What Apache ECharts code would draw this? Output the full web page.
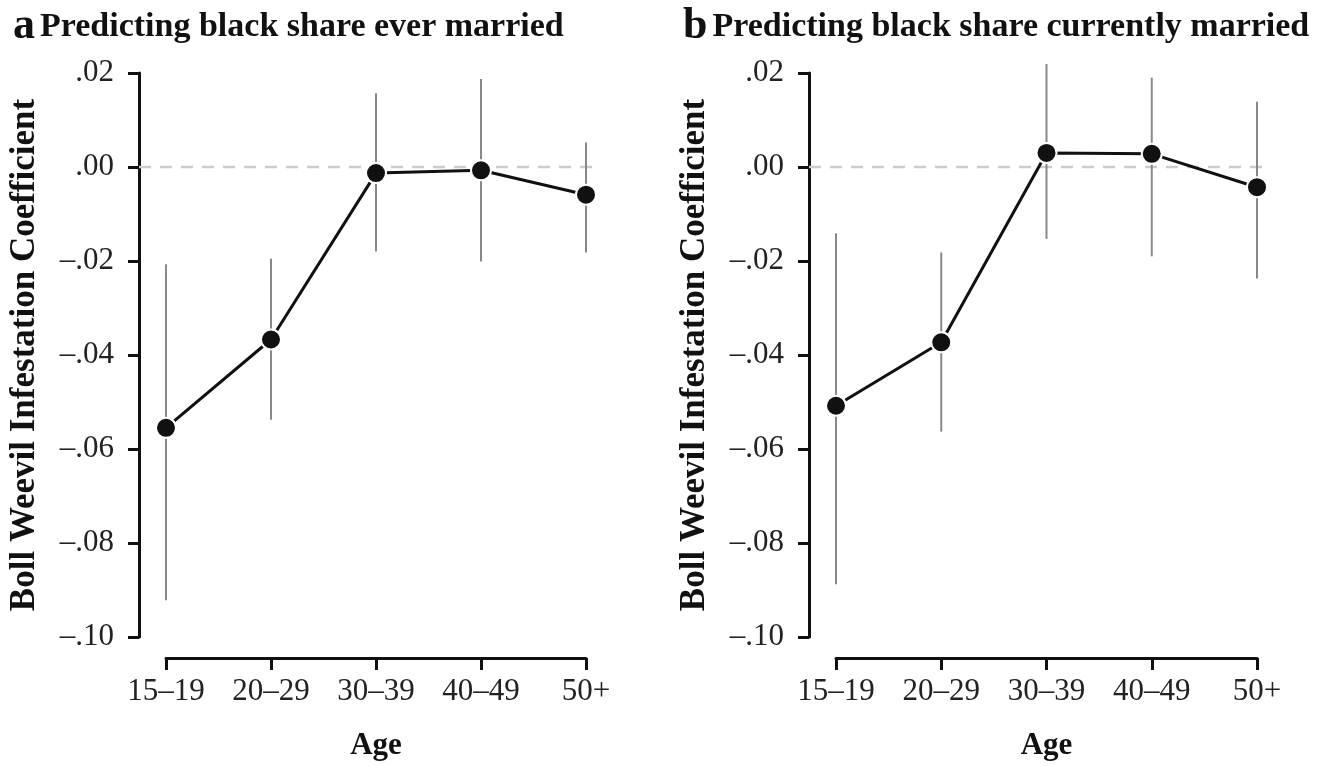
<!DOCTYPE html>
<html><head><meta charset="utf-8">
<script src="https://cdn.jsdelivr.net/npm/echarts@6/dist/echarts.min.js"></script>
<style>html,body{margin:0;padding:0;background:#fff}#c{width:1333px;height:766px}</style>
</head><body><div id="c"></div>
<script>
const ageGroups = ['15–19', '20–29', '30–39', '40–49', '50+'];
const everCoef = [-0.0555, -0.0367, -0.0013, -0.0007, -0.0059];
const everLow  = [-0.0922, -0.0538, -0.0180, -0.0201, -0.0182];
const everHigh = [-0.0207, -0.0195, 0.0157, 0.0187, 0.0052];
const currCoef = [-0.0508, -0.0373, 0.0030, 0.0028, -0.0043];
const currLow  = [-0.0888, -0.0563, -0.0153, -0.0190, -0.0237];
const currHigh = [-0.0141, -0.0182, 0.0219, 0.0190, 0.0139];
const panelLetters = ['a', 'b'];
const panelTitles = ['Predicting black share ever married', 'Predicting black share currently married'];
const yAxisTitle = 'Boll Weevil Infestation Coefficient';
const xAxisTitle = 'Age';

const FONT = '"Liberation Serif", "Times New Roman", serif';
const chart = echarts.init(document.getElementById('c'));

function fmt(v) {
  const s = Math.abs(v).toFixed(2).replace(/^0/, '');
  return (v < -1e-9 ? '–' : '') + s;
}

const grids = [
  { left: 166, top: 73, width: 420, height: 564 },
  { left: 836, top: 73, width: 421, height: 564 }
];

function xAxis(i) {
  return {
    type: 'category', gridIndex: i, data: ageGroups, boundaryGap: false, offset: 21, position: 'bottom',
    axisLine: { onZero: false, lineStyle: { color: '#111', width: 3 } },
    axisTick: { length: 12, lineStyle: { color: '#111', width: 3 } },
    axisLabel: { fontFamily: FONT, fontSize: 31, color: '#222', margin: 18 },
    name: xAxisTitle, nameLocation: 'middle', nameGap: 72,
    nameTextStyle: { fontFamily: FONT, fontSize: 31, fontWeight: 'bold', color: '#111' },
    splitLine: { show: false }
  };
}
function yAxis(i) {
  return {
    type: 'value', gridIndex: i, min: -0.1, max: 0.02, interval: 0.02, offset: 27,
    axisLine: { show: true, onZero: false, lineStyle: { color: '#111', width: 3 } },
    axisTick: { show: true, length: 11, lineStyle: { color: '#111', width: 3 } },
    axisLabel: { fontFamily: FONT, fontSize: 31, color: '#222', margin: 25, formatter: fmt },
    splitLine: { show: false },
    name: yAxisTitle, nameLocation: 'middle', nameGap: 97,
    nameTextStyle: { fontFamily: FONT, fontSize: 35, fontWeight: 'bold', color: '#111' }
  };
}

function panelSeries(i, coef, low, high) {
  return [
    {
      type: 'custom', xAxisIndex: i, yAxisIndex: i, z: 1, silent: true,
      data: [[0, 0]],
      renderItem: function (params, api) {
        const cs = params.coordSys;
        const p = api.coord([0, 0]);
        return { type: 'line', shape: { x1: cs.x - 27, y1: p[1], x2: cs.x + cs.width + 14, y2: p[1] },
          style: { stroke: '#cccccc', lineWidth: 2.5, lineDash: [12, 9] } };
      }
    },
    {
      type: 'custom', xAxisIndex: i, yAxisIndex: i, z: 2, silent: true,
      data: ageGroups.map((c, k) => [k, low[k], high[k]]),
      renderItem: function (params, api) {
        const a = api.coord([api.value(0), api.value(1)]);
        const b = api.coord([api.value(0), api.value(2)]);
        return { type: 'line', shape: { x1: a[0], y1: a[1], x2: b[0], y2: b[1] },
          style: { stroke: '#888', lineWidth: 2 } };
      }
    },
    {
      type: 'line', xAxisIndex: i, yAxisIndex: i, z: 3, data: coef,
      symbol: 'circle', symbolSize: 20,
      lineStyle: { color: '#111', width: 3 },
      itemStyle: { color: '#111', borderColor: '#fff', borderWidth: 2 },
      animation: false
    }
  ];
}

chart.setOption({
  backgroundColor: '#fff',
  animation: false,
  title: [0, 1].map(i => ({
    left: i === 0 ? 8 : 678, top: 0,
    text: '{a|' + panelLetters[i] + '} {b|' + panelTitles[i] + '}',
    textStyle: {
      rich: {
        a: { fontFamily: FONT, fontSize: 44, fontWeight: 'bold', color: '#111' },
        b: { fontFamily: FONT, fontSize: 34, fontWeight: 'bold', color: '#111' }
      }
    }
  })),
  grid: grids,
  xAxis: [xAxis(0), xAxis(1)],
  yAxis: [yAxis(0), yAxis(1)],
  series: [].concat(panelSeries(0, everCoef, everLow, everHigh), panelSeries(1, currCoef, currLow, currHigh))
});
</script></body></html>
